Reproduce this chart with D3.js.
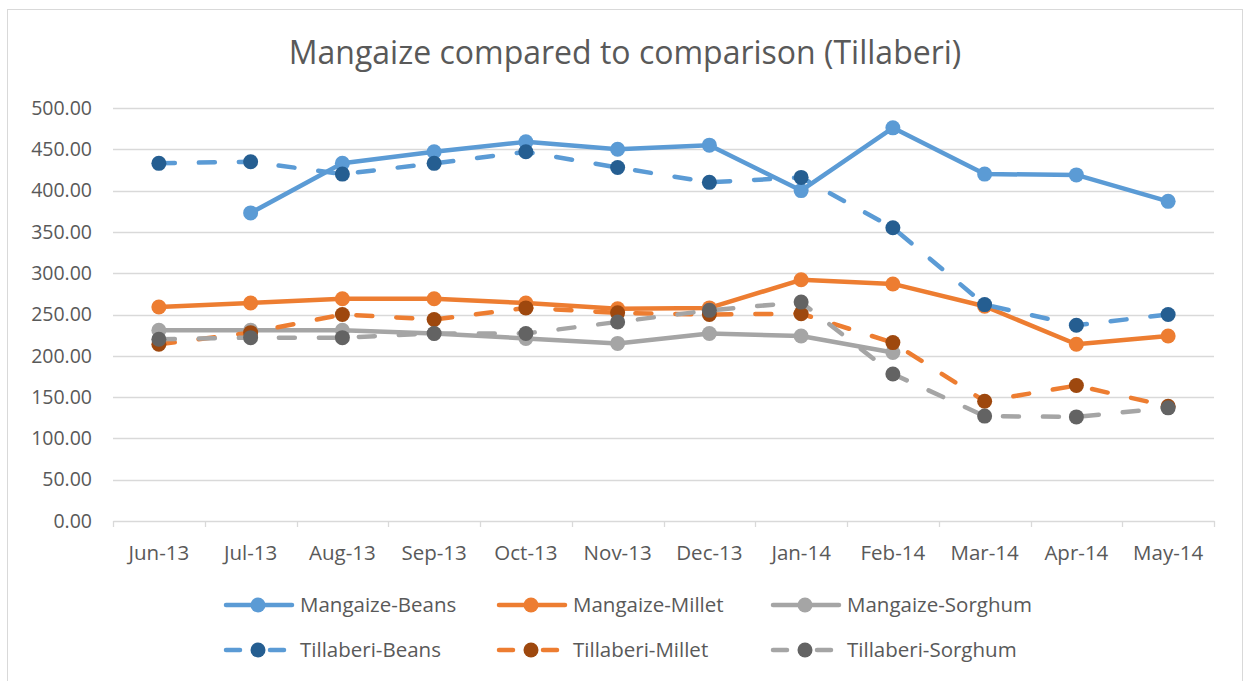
<!DOCTYPE html>
<html>
<head>
<meta charset="utf-8">
<script src="https://cdn.jsdelivr.net/npm/d3@7"></script>
<style>
  html, body { margin: 0; padding: 0; background: #fff; }
  svg { display: block; font-family: "Open Sans", "Noto Sans", sans-serif; }
</style>
</head>
<body>
<svg id="chart" width="1244" height="681"></svg>
<script>
// Monthly categories
const months = ["Jun-13","Jul-13","Aug-13","Sep-13","Oct-13","Nov-13","Dec-13","Jan-14","Feb-14","Mar-14","Apr-14","May-14"];

// Price series (null = no observation)
const mangaizeBeans   = [null, 373, 433, 447, 459, 450, 455, 400, 476, 420, 419, 387];
const mangaizeMillet  = [259, 264, 269, 269, 264, 257, 258, 292, 287, 260, 214, 224];
const mangaizeSorghum = [231, 231, 231, 227, 221, 215, 227, 224, 204, null, null, null];
const tillaberiBeans   = [433, 435, 420, 433, 447, 428, 410, 416, 355, 262, 237, 250];
const tillaberiMillet  = [214, 228, 250, 244, 258, 252, 250, 251, 216, 145, 164, 139];
const tillaberiSorghum = [220, 222, 222, 227, 227, 241, 255, 265, 178, 127, 126, 137];

const yTicks = [0, 50, 100, 150, 200, 250, 300, 350, 400, 450, 500];

const series = [
  { name: "Mangaize-Beans",   values: mangaizeBeans,   line: "#5B9BD5", marker: "#5B9BD5", dashed: false },
  { name: "Mangaize-Millet",  values: mangaizeMillet,  line: "#ED7D31", marker: "#ED7D31", dashed: false },
  { name: "Mangaize-Sorghum", values: mangaizeSorghum, line: "#A5A5A5", marker: "#A5A5A5", dashed: false },
  { name: "Tillaberi-Beans",  values: tillaberiBeans,  line: "#5B9BD5", marker: "#255E91", dashed: true },
  { name: "Tillaberi-Millet", values: tillaberiMillet, line: "#ED7D31", marker: "#9E480E", dashed: true },
  { name: "Tillaberi-Sorghum",values: tillaberiSorghum,line: "#A5A5A5", marker: "#636363", dashed: true }
];

const svg = d3.select("#chart");
const textColor = "#595959";
const gridColor = "#D9D9D9";

// chart frame
svg.append("rect")
  .attr("x", 7.5).attr("y", 9.5)
  .attr("width", 1235).attr("height", 700)
  .attr("fill", "none").attr("stroke", gridColor).attr("stroke-width", 1);

const plot = { left: 113, right: 1214, top: 108, bottom: 521 };

const x = d3.scaleBand().domain(months).range([plot.left, plot.right]).padding(0);
const y = d3.scaleLinear().domain([0, 500]).range([plot.bottom, plot.top]);

// title
svg.append("text")
  .attr("x", 625).attr("y", 64)
  .attr("text-anchor", "middle")
  .attr("fill", textColor)
  .style("font-size", "32px")
  .text("Mangaize compared to comparison (Tillaberi)");

// horizontal gridlines
svg.append("g")
  .selectAll("line")
  .data(yTicks.filter(d => d > 0))
  .join("line")
  .attr("x1", plot.left).attr("x2", plot.right)
  .attr("y1", d => Math.round(y(d)) + 0.5).attr("y2", d => Math.round(y(d)) + 0.5)
  .attr("stroke", gridColor).attr("stroke-width", 1.3);

// y axis labels
const yAxis = d3.axisLeft(y).tickValues(yTicks).tickFormat(d3.format(".2f")).tickSize(0).tickPadding(21);
const gy = svg.append("g").attr("transform", `translate(${plot.left},0)`).call(yAxis);
gy.select(".domain").remove();
gy.selectAll("text").attr("fill", textColor).style("font-size", "19.5px").style("font-family", "'Open Sans', sans-serif");

// x axis
const xAxis = d3.axisBottom(x).tickSize(0).tickPadding(24);
const gx = svg.append("g").attr("transform", `translate(0,${plot.bottom})`).call(xAxis);
gx.select(".domain").attr("stroke", gridColor).attr("stroke-width", 1.3);
gx.selectAll("text").attr("fill", textColor).style("font-size", "20.5px").style("font-family", "'Open Sans', sans-serif");
// category boundary tick marks
const boundaries = months.map(m => x(m)).concat([x(months[months.length - 1]) + x.bandwidth()]);
gx.selectAll("line.boundary")
  .data(boundaries)
  .join("line")
  .attr("class", "boundary")
  .attr("x1", d => Math.round(d) + 0.5).attr("x2", d => Math.round(d) + 0.5)
  .attr("y1", 0).attr("y2", 6)
  .attr("stroke", gridColor).attr("stroke-width", 1.3);

const cx = i => x(months[i]) + x.bandwidth() / 2;

const lineGen = d3.line()
  .defined(d => d.v !== null)
  .x(d => cx(d.i))
  .y(d => y(d.v));

// draw lines and markers in series order
series.forEach(s => {
  const pts = s.values.map((v, i) => ({ v, i }));
  const g = svg.append("g");
  g.append("path")
    .datum(pts)
    .attr("d", lineGen)
    .attr("fill", "none")
    .attr("stroke", s.line)
    .attr("stroke-width", 4.5)
    .attr("stroke-linejoin", "round")
    .attr("stroke-linecap", "round")
    .attr("stroke-dasharray", s.dashed ? "16,24" : null);
  g.selectAll("circle")
    .data(pts.filter(d => d.v !== null))
    .join("circle")
    .attr("cx", d => cx(d.i))
    .attr("cy", d => y(d.v))
    .attr("r", 7.5)
    .attr("fill", s.marker);
});

// legend
const legendCols = [224, 497, 771];
const legendRows = [605, 650];
series.forEach((s, k) => {
  const lx = legendCols[k % 3];
  const ly = legendRows[Math.floor(k / 3)];
  const g = svg.append("g").attr("transform", `translate(${lx},${ly})`);
  if (s.dashed) {
    g.append("line").attr("x1", 2).attr("x2", 16).attr("y1", 0).attr("y2", 0)
      .attr("stroke", s.line).attr("stroke-width", 4.5).attr("stroke-linecap", "round");
    g.append("line").attr("x1", 46).attr("x2", 60).attr("y1", 0).attr("y2", 0)
      .attr("stroke", s.line).attr("stroke-width", 4.5).attr("stroke-linecap", "round");
  } else {
    g.append("line").attr("x1", 2).attr("x2", 68).attr("y1", 0).attr("y2", 0)
      .attr("stroke", s.line).attr("stroke-width", 4.5).attr("stroke-linecap", "round");
  }
  g.append("circle").attr("cx", 34).attr("cy", 0).attr("r", 7.5).attr("fill", s.marker);
  g.append("text")
    .attr("x", 76).attr("y", 0).attr("dy", "0.35em")
    .attr("fill", textColor)
    .style("font-size", "20.5px")
    .text(s.name);
});
</script>
</body>
</html>
